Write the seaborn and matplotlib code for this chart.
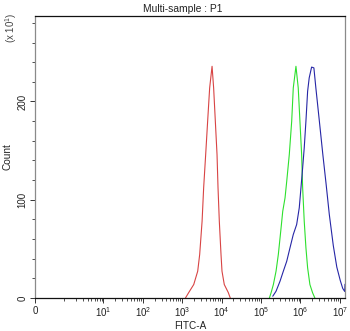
import matplotlib
matplotlib.use("Agg")
import matplotlib.pyplot as plt
from matplotlib.ticker import FixedLocator, FixedFormatter
import pandas as pd
import seaborn as sns

# Histogram outlines: FITC-A position (log10) and event count (x10^1)
red_log10 = [3.083, 3.167, 3.293, 3.394, 3.444, 3.505, 3.545, 3.596, 3.646, 3.697,
             3.758, 3.798, 3.841, 3.884, 3.909, 3.942, 3.985, 4.010, 4.068, 4.169, 4.220]
red_count = [0, 5.6, 13.7, 27.3, 44.3, 78.1, 112.4, 146, 179.9, 213.8,
             235.8, 213.8, 179.9, 146, 112.4, 78.1, 44.3, 27.3, 13.7, 5.6, 0]

green_log10 = [5.212, 5.255, 5.313, 5.381, 5.439, 5.500, 5.551, 5.609, 5.652, 5.717,
               5.778, 5.818, 5.886, 5.944, 5.987, 6.030, 6.056, 6.096, 6.139, 6.182,
               6.240, 6.308, 6.366]
green_count = [0, 5.3, 13.7, 27.3, 44.3, 68, 88.3, 101.9, 118.8, 146,
               179.9, 213.8, 235.8, 213.8, 179.9, 146, 112.1, 78.1, 51.1, 30.7,
               13.7, 5.3, 0]

blue_log10 = [5.298, 5.381, 5.482, 5.566, 5.652, 5.735, 5.818, 5.904, 5.970, 6.013,
              6.056, 6.096, 6.139, 6.182, 6.222, 6.283, 6.341, 6.391, 6.480, 6.568,
              6.652, 6.732, 6.833, 6.922, 7.010, 7.073, 7.124, 7.130]
blue_count = [1.8, 6.9, 17.1, 27.3, 37.4, 51.1, 64.6, 74.8, 91.8, 112.1,
              132.5, 152.8, 179.9, 210.4, 224, 235, 234.2, 213.8, 179.9, 146,
              115.5, 85, 53.4, 31.5, 17.8, 9.7, 6.6, 14]

x_major = [0, 1e1, 1e2, 1e3, 1e4, 1e5, 1e6, 1e7]
x_major_labels = ["0", "$10^1$", "$10^2$", "$10^3$", "$10^4$", "$10^5$", "$10^6$", "$10^7$"]
y_major = [0, 100, 200]
y_major_labels = ["0", "100", "200"]

frames = []
for name, lx, cnt in [("red", red_log10, red_count),
                      ("green", green_log10, green_count),
                      ("blue", blue_log10, blue_count)]:
    frames.append(pd.DataFrame({"FITC-A": [10 ** v for v in lx],
                                "Count": cnt, "sample": name}))
df = pd.concat(frames, ignore_index=True)

sns.set_theme(style="ticks")
plt.rcParams["font.family"] = ["Liberation Sans", "DejaVu Sans"]
plt.rcParams["mathtext.default"] = "regular"

fig = plt.figure(figsize=(3.5, 3.31), dpi=100)
ax = fig.add_axes([0.1, 0.0997, 0.8857, 0.852])

sns.lineplot(data=df, x="FITC-A", y="Count", hue="sample", units="sample",
             estimator=None, sort=False, ax=ax, legend=False, linewidth=0.8,
             palette={"red": "#d84444", "green": "#2ee02e", "blue": "#2626a6"})

ax.set_xscale("symlog", linthresh=1, linscale=0.66)
ax.set_xlim(0, 10 ** 7.13)
ax.set_ylim(0, 287)

ax.xaxis.set_major_locator(FixedLocator(x_major))
ax.xaxis.set_major_formatter(FixedFormatter(x_major_labels))
minor_x = [k * 10 ** d for d in range(0, 7) for k in range(1, 10) if not (k == 1 and d > 0)]
ax.xaxis.set_minor_locator(FixedLocator(minor_x))
ax.yaxis.set_major_locator(FixedLocator(y_major))
ax.yaxis.set_major_formatter(FixedFormatter(y_major_labels))
ax.yaxis.set_minor_locator(FixedLocator([v for v in range(20, 287, 20) if v % 100]))

ax.tick_params(axis="both", which="major", labelsize=7, length=3.5, width=0.7,
               color="#333333", labelcolor="#222222", direction="out")
ax.tick_params(axis="both", which="minor", length=2, width=0.6, color="#333333")
ax.tick_params(axis="x", pad=2)
ax.tick_params(axis="y", pad=2)
for lab in ax.get_yticklabels():
    lab.set_rotation(90)
    lab.set_va("center")

for side, col in [("left", "#8a8a8a"), ("right", "#8a8a8a"), ("top", "#111111"), ("bottom", "#111111")]:
    ax.spines[side].set_color(col)
    ax.spines[side].set_linewidth(0.9)

ax.set_xlabel("FITC-A", fontsize=7.2, labelpad=1, color="#222222")
ax.set_ylabel("Count", fontsize=7.2, color="#222222")
ax.yaxis.set_label_coords(-0.072, 0.5)
ax.set_title("Multi-sample : P1", fontsize=7.4, pad=3, color="#222222", x=0.476)
fig.text(0.033, 0.915, "(x $10^1$)", rotation=90, fontsize=7, ha="center", va="center",
         color="#444444")

fig.savefig("out.png", dpi=100)
